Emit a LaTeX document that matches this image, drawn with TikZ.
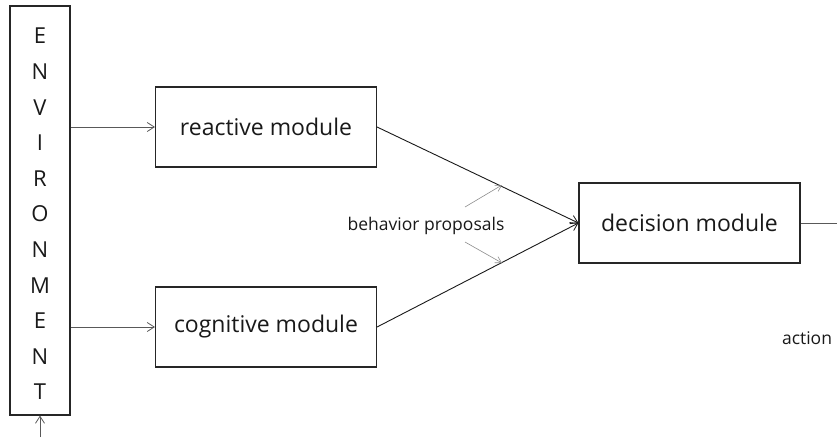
\documentclass[tikz,border=0pt]{standalone}
\usepackage{fontspec}
\setmainfont{Open Sans}
\usetikzlibrary{arrows.meta}
\begin{document}
\begin{tikzpicture}[x=1pt,y=-1pt,
  box/.style={draw=black!85,line width=1.1pt,inner sep=0pt},
  modbox/.style={box,minimum width=221pt,minimum height=80pt,font=\fontsize{23}{27}\selectfont,text=black!90},
  conn/.style={line width=0.9pt,draw=black!90,-{Straight Barb[length=7pt,width=9pt,line width=0.8pt]}},
  envconn/.style={line width=0.8pt,draw=black!65,-{Straight Barb[length=7pt,width=9pt,line width=0.8pt]}},
  hint/.style={line width=0.6pt,draw=black!45,-{Straight Barb[length=6pt,width=7pt,line width=0.6pt]}},
  lbl/.style={font=\fontsize{17.5}{20}\selectfont,text=black!90}]
\useasboundingbox (0,0) rectangle (837,439);
\node[box,minimum width=60pt,minimum height=409pt] (env) at (40,210.5) {};
\node[align=center,inner sep=0pt,font=\fontsize{22}{35.6}\selectfont,text=black!90] (envtext) at (40,214)
  {E\\N\\V\\I\\R\\O\\N\\M\\E\\N\\T};
\node[modbox] (reactive) at (266,127) {reactive module};
\node[modbox] (cognitive) at (266,327) {cognitive module};
\node[modbox] (decision) at (689.5,223) {decision module};
\coordinate (envin) at (40,437);
\coordinate (out) at (837,223);
\draw[envconn] (envin) -- (env.south);
\draw[envconn] (env.east |- reactive.west) -- (reactive.west);
\draw[envconn] (env.east |- cognitive.west) -- (cognitive.west);
\draw[conn] (reactive.east) -- (decision.west);
\draw[conn] (cognitive.east) -- (decision.west);
\draw[line width=0.9pt,draw=black!65] (decision.east) -- (out);
\coordinate (h1a) at (465,207);
\coordinate (h1b) at (502,185);
\coordinate (h2a) at (465,242);
\coordinate (h2b) at (502,263);
\draw[hint] (h1a) -- (h1b);
\draw[hint] (h2a) -- (h2b);
\node[lbl] (bp) at (426,226) {behavior proposals};
\node[lbl] (action) at (807,338) {action};
\end{tikzpicture}
\end{document}
